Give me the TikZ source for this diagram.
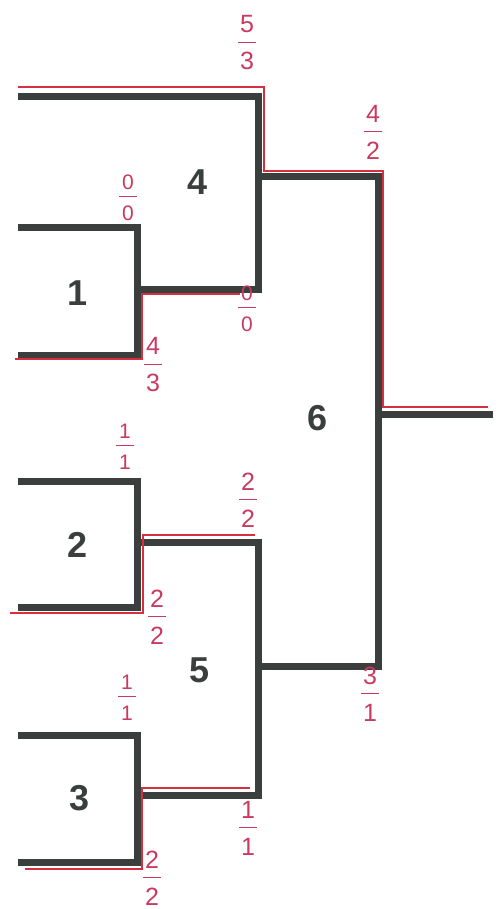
\documentclass[tikz,border=0pt]{standalone}
\usepackage{fontspec}
\setmainfont{Liberation Sans}
\usetikzlibrary{calc}
\definecolor{bline}{RGB}{58,62,60}
\definecolor{rline}{RGB}{214,48,64}
\definecolor{rtext}{RGB}{202,58,96}
\tikzset{
  bracket/.style={draw=bline, line width=7pt, line join=miter},
  win/.style    ={draw=rline, line width=2.4pt},
  num/.style    ={font=\fontsize{36}{36}\selectfont\bfseries, text=bline, inner sep=0pt},
  score/.style  ={font=\fontsize{25}{18.5}\selectfont, text=rtext, align=center, inner sep=0pt},
  small/.style  ={font=\fontsize{21}{15.5}\selectfont}
}
\newcommand{\sco}[2]{#1\\\rule[8.3pt]{18pt}{1.4pt}\\#2}

\begin{document}
\begin{tikzpicture}[x=1pt, y=-1pt]
\useasboundingbox (0,0) rectangle (501,909);
\coordinate (1a) at (18,228);  \coordinate (1b) at (18,355);  \coordinate (1o) at (137,289);
\coordinate (2a) at (18,481);  \coordinate (2b) at (18,607);  \coordinate (2o) at (137,542);
\coordinate (3a) at (18,735);  \coordinate (3b) at (18,862);  \coordinate (3o) at (137,795);
\coordinate (4a) at (18,97);   \coordinate (4o) at (258,177);
\coordinate (5o) at (258,666);
\coordinate (6o) at (378,414); \coordinate (fin) at (493,414);

\draw[bracket] (1a) -| (1o) |- (1b);
\draw[bracket] (2a) -| (2o) |- (2b);
\draw[bracket] (3a) -| (3o) |- (3b);
\draw[bracket] (4a) -| (4o) |- (1o);
\draw[bracket] (2o) -| (5o) |- (3o);
\draw[bracket] (4o) -| (6o) |- (5o);
\draw[bracket] (6o) -- (fin);

\draw[win] (18,87) -- (264,87) -- (264,171) -- (383,171) -- (383,407) -- (488,407);
\draw[win] (15,359) -- (142,359) -- (142,294) -- (240,294);
\draw[win] (10,613) -- (143,613) -- (143,535) -- (255,535);
\draw[win] (25,869) -- (142,869) -- (142,788) -- (250,788);

\node[num] (m4) at (198,182) {4};
\node[num] (m1) at (78,293) {1};
\node[num] (m6) at (318,418) {6};
\node[num] (m2) at (78,545) {2};
\node[num] (m5) at (200,670) {5};
\node[num] (m3) at (80,798) {3};

\node[score] (s4a) at (247,43)  {\sco{5}{3}};
\node[score] (s6a) at (373,132) {\sco{4}{2}};
\node[score, small] (s1a) at (128,198) {\sco{0}{0}};
\node[score, small] (s4b) at (247,309) {\sco{0}{0}};
\node[score] (s1b) at (153,365) {\sco{4}{3}};
\node[score, small] (s2a) at (125,447) {\sco{1}{1}};
\node[score] (s5a) at (248,500) {\sco{2}{2}};
\node[score] (s2b) at (157,617) {\sco{2}{2}};
\node[score, small] (s3a) at (127,698) {\sco{1}{1}};
\node[score] (s6b) at (370,694) {\sco{3}{1}};
\node[score] (s5b) at (248,828) {\sco{1}{1}};
\node[score] (s3b) at (152,878) {\sco{2}{2}};
\end{tikzpicture}
\end{document}
